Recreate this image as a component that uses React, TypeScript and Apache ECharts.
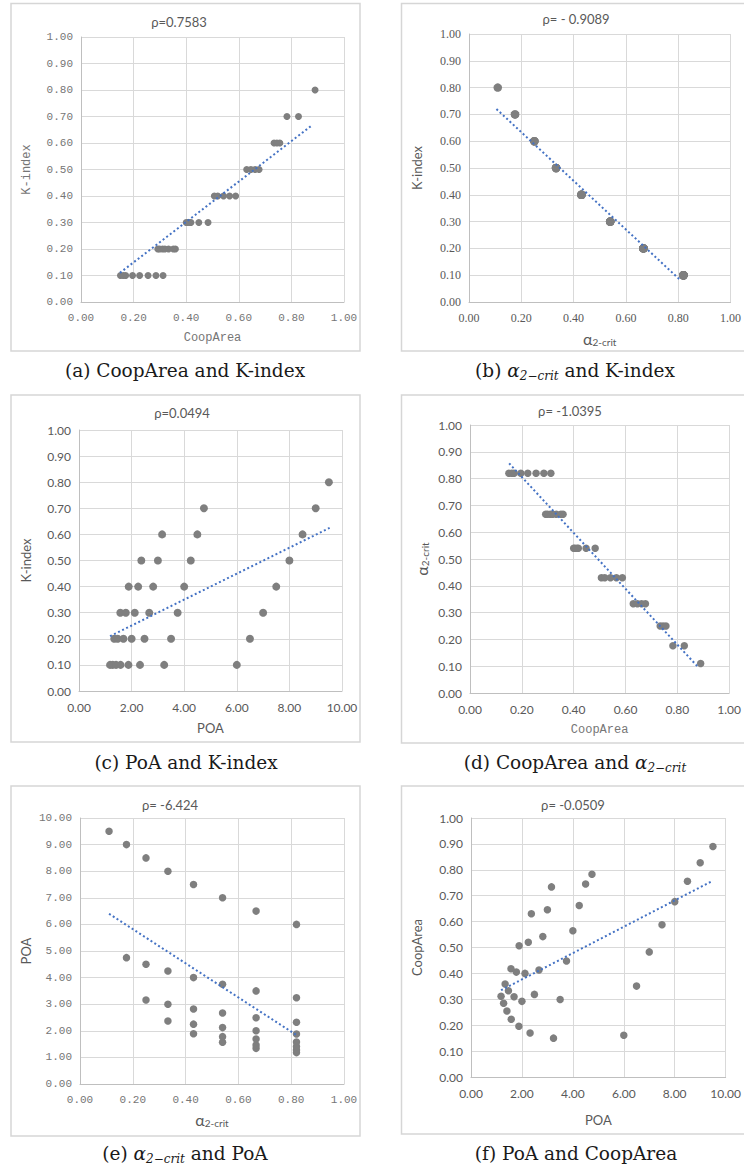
import { useEffect, useRef } from "react";
import * as echarts from "echarts";

// ---- Data (36 nodes, grouped by K-index level) ----
const kIndex = [
  0.1, 0.1, 0.1, 0.1, 0.1, 0.1, 0.1, 0.1,
  0.2, 0.2, 0.2, 0.2, 0.2, 0.2, 0.2,
  0.3, 0.3, 0.3, 0.3, 0.3, 0.3,
  0.4, 0.4, 0.4, 0.4, 0.4,
  0.5, 0.5, 0.5, 0.5,
  0.6, 0.6, 0.6,
  0.7, 0.7,
  0.8,
];
const poa = [
  1.18, 1.28, 1.41, 1.58, 1.88, 2.32, 3.24, 6.0,
  1.34, 1.47, 1.69, 2.0, 2.49, 3.5, 6.5,
  1.57, 1.78, 2.12, 2.67, 3.75, 7.0,
  1.89, 2.25, 2.82, 4.0, 7.5,
  2.37, 3.0, 4.25, 8.0,
  3.16, 4.5, 8.5,
  4.75, 9.0,
  9.5,
];
const coopArea = [
  0.312, 0.285, 0.255, 0.223, 0.196, 0.17, 0.15, 0.161,
  0.359, 0.333, 0.31, 0.292, 0.319, 0.299, 0.351,
  0.418, 0.405, 0.4, 0.413, 0.448, 0.483,
  0.507, 0.52, 0.542, 0.565, 0.588,
  0.63, 0.646, 0.662, 0.677,
  0.734, 0.745, 0.756,
  0.783, 0.827,
  0.89,
];
const alpha2crit = [
  0.82, 0.82, 0.82, 0.82, 0.82, 0.82, 0.82, 0.82,
  0.667, 0.667, 0.667, 0.667, 0.667, 0.667, 0.667,
  0.54, 0.54, 0.54, 0.54, 0.54, 0.54,
  0.43, 0.43, 0.43, 0.43, 0.43,
  0.333, 0.333, 0.333, 0.333,
  0.25, 0.25, 0.25,
  0.176, 0.176,
  0.11,
];

// Trendline end points (x values, y values)
const trendAX = [0.148, 0.88];
const trendAY = [0.11, 0.668];
const trendBX = [0.105, 0.81];
const trendBY = [0.72, 0.08];
const trendCX = [1.18, 9.53];
const trendCY = [0.21, 0.625];
const trendDX = [0.151, 0.88];
const trendDY = [0.857, 0.097];
const trendEX = [0.11, 0.82];
const trendEY = [6.4, 1.84];
const trendFX = [1.18, 9.5];
const trendFY = [0.335, 0.758];

const rhoLabels = ["ρ=0.7583", "ρ= - 0.9089", "ρ=0.0494", "ρ= -1.0395", "ρ= -6.424", "ρ= -0.0509"];

// ---- Styling ----
const MONO = '"Liberation Mono", monospace';
const SANS = 'Lato, "Open Sans", sans-serif';
const SERIF = '"Liberation Serif", serif';
const CAP = '"DejaVu Serif", serif';
const GRID_COLOR = "#d9d9d9";
const AXIS_COLOR = "#bfbfbf";
const DOT_COLOR = "#7f7f7f";
const TREND_COLOR = "#4472c4";
const TXT = "#595959";
const TXT_MONO = "#767676";

const alphaRich = {
  a: { fontFamily: SANS, fontSize: 16, color: TXT, lineHeight: 18 },
  b: { fontFamily: SANS, fontSize: 10, color: TXT, lineHeight: 12, verticalAlign: "bottom" },
};

const zip = (xs: number[], ys: number[]) => xs.map((x, i) => [x, ys[i]]);

type Panel = {
  xs: number[];
  ys: number[];
  tx: number[];
  ty: number[];
  grid: { left: number; top: number; width: number; height: number };
  xMax: number;
  xInt: number;
  yMax: number;
  yInt: number;
  tickFont: string;
  tickSize: number;
  tickColor: string;
  xName: string;
  xNameStyle: any;
  xGap: number;
  yName: string;
  yNameStyle: any;
  yGap: number;
  dot: number;
  box: { x: number; y: number; w: number; h: number };
  title: { x: number; y: number };
  caption: { x: number; y: number; text: string };
};

const panels: Panel[] = [
  {
    xs: coopArea, ys: kIndex, tx: trendAX, ty: trendAY,
    grid: { left: 81, top: 37, width: 263, height: 265 },
    xMax: 1, xInt: 0.2, yMax: 1, yInt: 0.1,
    tickFont: MONO, tickSize: 11, tickColor: TXT_MONO,
    xName: "CoopArea", xNameStyle: { fontFamily: MONO, fontSize: 12, color: TXT_MONO }, xGap: 30,
    yName: "K-index", yNameStyle: { fontFamily: MONO, fontSize: 12, color: TXT_MONO }, yGap: 48,
    dot: 7,
    box: { x: 11, y: 3.5, w: 349, h: 347.5 },
    title: { x: 179, y: 22 },
    caption: { x: 185, y: 370, text: "{t|(a) CoopArea and K-index}" },
  },
  {
    xs: alpha2crit, ys: kIndex, tx: trendBX, ty: trendBY,
    grid: { left: 469, top: 34, width: 266, height: 268 },
    xMax: 1, xInt: 0.2, yMax: 1, yInt: 0.1,
    tickFont: SERIF, tickSize: 12, tickColor: TXT,
    xName: "{a|α}{b|2-crit}", xNameStyle: { rich: alphaRich }, xGap: 27,
    yName: "K-index", yNameStyle: { fontFamily: SANS, fontSize: 13, color: TXT }, yGap: 46,
    dot: 8.5,
    box: { x: 401.5, y: 3.5, w: 360, h: 347.5 },
    title: { x: 576, y: 19 },
    caption: { x: 575, y: 370, text: "{t|(b) }{m|α}{s|2−crit}{t| and K-index}" },
  },
  {
    xs: poa, ys: kIndex, tx: trendCX, ty: trendCY,
    grid: { left: 79, top: 430, width: 263, height: 261 },
    xMax: 10, xInt: 2, yMax: 1, yInt: 0.1,
    tickFont: SANS, tickSize: 12, tickColor: TXT,
    xName: "POA", xNameStyle: { fontFamily: SANS, fontSize: 13, color: TXT }, xGap: 30,
    yName: "K-index", yNameStyle: { fontFamily: SANS, fontSize: 13, color: TXT }, yGap: 47,
    dot: 8,
    box: { x: 11, y: 395, w: 349, h: 347 },
    title: { x: 182, y: 413 },
    caption: { x: 186, y: 762, text: "{t|(c) PoA and K-index}" },
  },
  {
    xs: coopArea, ys: alpha2crit, tx: trendDX, ty: trendDY,
    grid: { left: 470, top: 425, width: 265, height: 268 },
    xMax: 1, xInt: 0.2, yMax: 1, yInt: 0.1,
    tickFont: SANS, tickSize: 12, tickColor: TXT,
    xName: "CoopArea", xNameStyle: { fontFamily: MONO, fontSize: 12, color: TXT_MONO }, xGap: 31,
    yName: "{a|α}{b|2-crit}", yNameStyle: { rich: alphaRich }, yGap: 40,
    dot: 7.5,
    box: { x: 401.5, y: 395, w: 360, h: 348 },
    title: { x: 570, y: 411 },
    caption: { x: 575, y: 762, text: "{t|(d) CoopArea and }{m|α}{s|2−crit}" },
  },
  {
    xs: alpha2crit, ys: poa, tx: trendEX, ty: trendEY,
    grid: { left: 80, top: 818, width: 264, height: 266 },
    xMax: 1, xInt: 0.2, yMax: 10, yInt: 1,
    tickFont: MONO, tickSize: 11, tickColor: TXT_MONO,
    xName: "{a|α}{b|2-crit}", xNameStyle: { rich: alphaRich }, xGap: 26,
    yName: "POA", yNameStyle: { fontFamily: SANS, fontSize: 13, color: TXT }, yGap: 48,
    dot: 7.5,
    box: { x: 11, y: 786, w: 349, h: 350 },
    title: { x: 170, y: 805 },
    caption: { x: 185, y: 1153, text: "{t|(e) }{m|α}{s|2−crit}{t| and PoA}" },
  },
  {
    xs: poa, ys: coopArea, tx: trendFX, ty: trendFY,
    grid: { left: 471, top: 818, width: 261, height: 259 },
    xMax: 10, xInt: 2, yMax: 1, yInt: 0.1,
    tickFont: SANS, tickSize: 12, tickColor: TXT,
    xName: "POA", xNameStyle: { fontFamily: SANS, fontSize: 13, color: TXT }, xGap: 36,
    yName: "CoopArea", yNameStyle: { fontFamily: SANS, fontSize: 13, color: TXT }, yGap: 48,
    dot: 7.5,
    box: { x: 401.5, y: 786, w: 360, h: 348 },
    title: { x: 573, y: 805 },
    caption: { x: 576, y: 1153, text: "{t|(f) PoA and CoopArea}" },
  },
];

const CAP_COLOR = "#1a1a1a";
const captionRich = {
  t: { fontFamily: CAP, fontSize: 18.5, color: CAP_COLOR, lineHeight: 24 },
  m: { fontFamily: CAP, fontSize: 18.5, fontStyle: "italic", color: CAP_COLOR, lineHeight: 24 },
  s: { fontFamily: CAP, fontSize: 12, fontStyle: "italic", color: CAP_COLOR, lineHeight: 11, verticalAlign: "bottom" },
};

function buildOption() {
  const fmt = (v: number) => v.toFixed(2);
  const axisCommon = (i: number) => ({
    type: "value" as const,
    gridIndex: i,
    nameLocation: "middle" as const,
    axisLine: { show: true, onZero: false, lineStyle: { color: AXIS_COLOR, width: 1 } },
    axisTick: { show: false },
    splitLine: { show: true, lineStyle: { color: GRID_COLOR, width: 1 } },
  });
  const grid = panels.map((p) => ({ ...p.grid, containLabel: false }));
  const xAxis = panels.map((p, i) => ({
    ...axisCommon(i),
    min: 0, max: p.xMax, interval: p.xInt,
    name: p.xName, nameGap: p.xGap, nameTextStyle: p.xNameStyle,
    axisLabel: { formatter: fmt, fontFamily: p.tickFont, fontSize: p.tickSize, color: p.tickColor, margin: 10, showMaxLabel: true },
  }));
  const yAxis = panels.map((p, i) => ({
    ...axisCommon(i),
    min: 0, max: p.yMax, interval: p.yInt,
    name: p.yName, nameGap: p.yGap, nameTextStyle: p.yNameStyle, nameRotate: 90,
    axisLabel: { formatter: fmt, fontFamily: p.tickFont, fontSize: p.tickSize, color: p.tickColor, margin: 8 },
  }));
  const series: any[] = [];
  panels.forEach((p, i) => {
    series.push({
      type: "scatter",
      xAxisIndex: i, yAxisIndex: i,
      data: zip(p.xs, p.ys),
      symbolSize: p.dot,
      itemStyle: { color: DOT_COLOR, opacity: 1 },
      silent: true,
      z: 2,
    });
    series.push({
      type: "line",
      xAxisIndex: i, yAxisIndex: i,
      data: zip(p.tx, p.ty),
      showSymbol: false,
      symbol: "none",
      lineStyle: { color: TREND_COLOR, width: 2, type: [2, 2.5] },
      silent: true,
      z: 3,
    });
  });
  const graphic: any[] = [];
  panels.forEach((p, i) => {
    graphic.push({
      type: "rect",
      shape: { x: p.box.x, y: p.box.y, width: p.box.w, height: p.box.h },
      style: { fill: "none", stroke: "#d6d6d6", lineWidth: 1.5 },
      silent: true,
    });
    graphic.push({
      type: "text",
      x: p.title.x, y: p.title.y,
      style: {
        text: rhoLabels[i],
        fontFamily: SANS, fontSize: 13, fill: TXT,
        align: "center", verticalAlign: "middle",
        textAlign: "center", textVerticalAlign: "middle",
      },
      silent: true,
    });
    graphic.push({
      type: "text",
      x: p.caption.x, y: p.caption.y,
      style: {
        text: p.caption.text,
        rich: captionRich,
        fontFamily: CAP, fontSize: 18.5, fill: CAP_COLOR,
        align: "center", verticalAlign: "middle",
        textAlign: "center", textVerticalAlign: "middle",
      },
      silent: true,
    });
  });
  return {
    animation: false,
    backgroundColor: "#ffffff",
    grid, xAxis, yAxis, series, graphic,
  };
}

export default function App() {
  const ref = useRef<HTMLDivElement>(null);
  useEffect(() => {
    if (!ref.current) return;
    const chart = echarts.init(ref.current, undefined, { renderer: "svg" });
    chart.setOption(buildOption() as any);
    return () => chart.dispose();
  }, []);
  return (
    <div
      ref={ref}
      style={{ position: "absolute", left: 0, top: 0, width: 744, height: 1168, background: "#fff" }}
    />
  );
}
